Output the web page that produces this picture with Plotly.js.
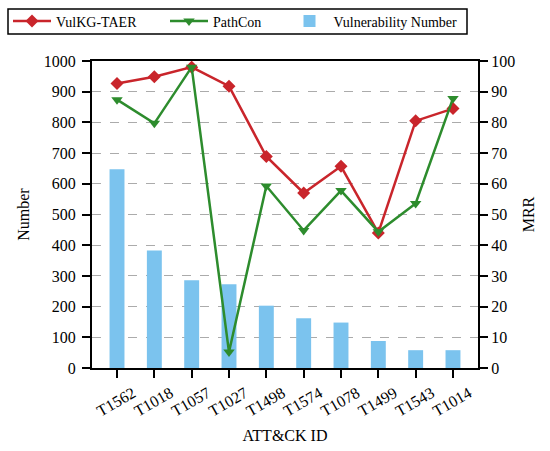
<!DOCTYPE html>
<html><head><meta charset="utf-8">
<script src="https://cdn.plot.ly/plotly-3.0.1.min.js"></script>
<style>html,body{margin:0;padding:0;background:#fff}</style>
</head><body>
<div id="chart" style="width:550px;height:451px"></div>
<script>
const categories = ['T1562','T1018','T1057','T1027','T1498','T1574','T1078','T1499','T1543','T1014'];
const vulnNumber = [647, 383, 286, 273, 203, 162, 148, 88, 58, 58];
const vulkgMRR = [92.7, 94.9, 98.0, 91.8, 68.9, 57.0, 65.7, 44.0, 80.5, 84.5];
const pathconMRR = [87.4, 79.7, 98.0, 5.2, 59.3, 44.8, 57.8, 44.4, 53.6, 87.8];

const FAM = 'Liberation Serif';
function fnt(s) { return {family: FAM, size: s, color: '#000'}; }
function legBase(x) {
  return {orientation: 'h', xref: 'container', yref: 'container', xanchor: 'left', yanchor: 'middle',
    x: x, y: 1 - 21.5/451, borderwidth: 0, bgcolor: 'rgba(0,0,0,0)', font: fnt(14), itemwidth: 38};
}

const data = [
  {x: categories, y: vulkgMRR, name: 'VulKG-TAER', type: 'scatter', mode: 'lines+markers', yaxis: 'y2', legend: 'legend',
   line: {color: '#C9252B', width: 2.5}, marker: {symbol: 'diamond', size: 10, color: '#C9252B'}},
  {x: categories, y: pathconMRR, name: 'PathCon', type: 'scatter', mode: 'lines+markers', yaxis: 'y2', legend: 'legend2',
   line: {color: '#2D8C2D', width: 2.5}, marker: {symbol: 'triangle-down', size: 10, color: '#2D8C2D'}},
  {x: categories, y: vulnNumber, name: 'Vulnerability Number', type: 'bar', yaxis: 'y', legend: 'legend3',
   width: 0.4, marker: {color: '#7BC3EE'}}
];
const layout = {
  width: 550, height: 451,
  margin: {l: 92, r: 72, t: 61, b: 83},
  paper_bgcolor: '#fff', plot_bgcolor: '#fff',
  font: fnt(16),
  showlegend: true,
  legend: legBase(8/550),
  legend2: legBase(165/550),
  legend3: legBase(285.5/550),
  shapes: [{type: 'rect', xref: 'paper', yref: 'paper',
    x0: (8-92)/386, x1: (467-92)/386, y0: 1 + (61-34)/307, y1: 1 + (61-9)/307,
    line: {color: '#000', width: 1.5}, fillcolor: 'rgba(0,0,0,0)'}],
  xaxis: {type: 'category', range: [-0.67, 9.67], showline: true, linecolor: '#000', linewidth: 2, mirror: true,
    ticks: 'outside', ticklen: 8, tickwidth: 2, tickcolor: '#000', tickangle: -30, showgrid: false,
    tickfont: fnt(16), ticklabelshift: 16, ticklabelstandoff: 0,
    title: {text: 'ATT&CK ID', font: fnt(16), standoff: 11}},
  yaxis: {range: [0, 1000], dtick: 100, showline: true, linecolor: '#000', linewidth: 2,
    ticks: 'outside', ticklen: 8, tickwidth: 2, tickcolor: '#000', showgrid: true, gridcolor: '#ababab',
    griddash: 'dash', gridwidth: 1, zeroline: false, tickfont: fnt(16), ticklabelstandoff: 3,
    title: {text: 'Number', font: fnt(16), standoff: 10}},
  yaxis2: {range: [0, 100], dtick: 10, overlaying: 'y', side: 'right', showline: true, linecolor: '#000', linewidth: 2,
    ticks: 'outside', ticklen: 8, tickwidth: 2, tickcolor: '#000', showgrid: false, zeroline: false, tickfont: fnt(16),
    title: {text: 'MRR', font: fnt(16), standoff: 9}}
};
Plotly.newPlot('chart', data, layout, {displayModeBar: false});
</script>
</body></html>
